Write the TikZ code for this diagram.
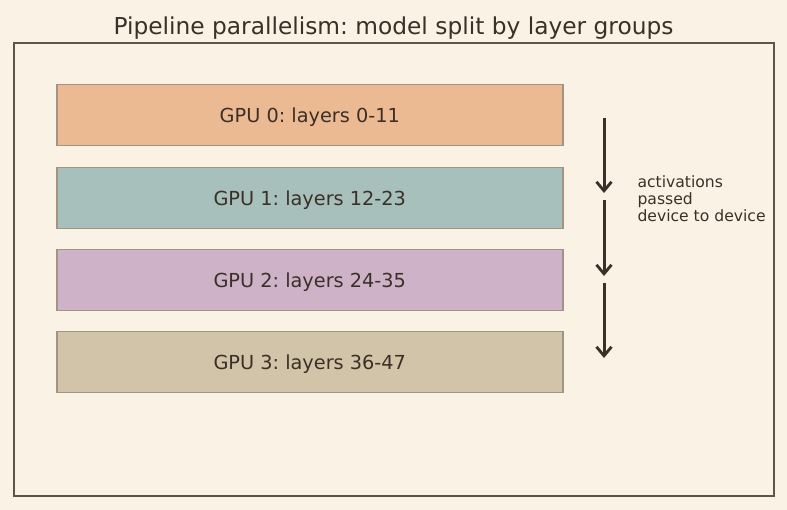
\documentclass[tikz,border=0pt]{standalone}
\usepackage{fontspec}
\setmainfont{DejaVu Sans}
\frenchspacing
\usetikzlibrary{arrows.meta}
\definecolor{bg}{HTML}{FAF2E4}
\definecolor{ink}{HTML}{3A3028}
\definecolor{frame}{HTML}{5E5545}
\definecolor{edge}{HTML}{A39384}
\definecolor{cA}{HTML}{EBBA92}
\definecolor{cB}{HTML}{A7C0BC}
\definecolor{cC}{HTML}{CEB3C8}
\definecolor{cD}{HTML}{D2C4A8}
\begin{document}
\begin{tikzpicture}[x=1pt,y=-1pt,
  gpubox/.style={draw=edge,line width=1.5pt,minimum width=506pt,minimum height=61pt,inner sep=0pt,anchor=north west,text=ink,font=\fontsize{19.3}{22}\selectfont},
  flow/.style={draw=ink,line width=3pt,-{Straight Barb[length=9pt,width=15pt,line width=2.8pt]}}]
\fill[bg] (0,0) rectangle (787,510);
\useasboundingbox (0,0) rectangle (787,510);
\node[text=ink,font=\fontsize{23.3}{26}\selectfont] (title) at (393.5,28) {Pipeline parallelism: model split by layer groups};
\draw[frame,line width=1.5pt] (14,43) rectangle (774,496);
\node[gpubox,fill=cA,text depth=-1.5pt] (g0) at (56,84) {GPU 0: layers 0-11};
\node[gpubox,fill=cB,text depth=-1.5pt] (g1) at (56,167) {GPU 1: layers 12-23};
\node[gpubox,fill=cC,text depth=-1.5pt] (g2) at (56,249) {GPU 2: layers 24-35};
\node[gpubox,fill=cD,text depth=-1.5pt] (g3) at (56,331) {GPU 3: layers 36-47};
\coordinate (a0) at (604,118);
\coordinate (a1) at (604,193);
\coordinate (b0) at (604,200);
\coordinate (b1) at (604,276);
\coordinate (c0) at (604,283);
\coordinate (c1) at (604,358);
\draw[flow] (a0) -- (a1);
\draw[flow] (b0) -- (b1);
\draw[flow] (c0) -- (c1);
\node[anchor=west,align=left,text=ink,font=\fontsize{15.6}{17}\selectfont] (lbl) at (634,199) {activations\\passed\\device to device};
\end{tikzpicture}
\end{document}
